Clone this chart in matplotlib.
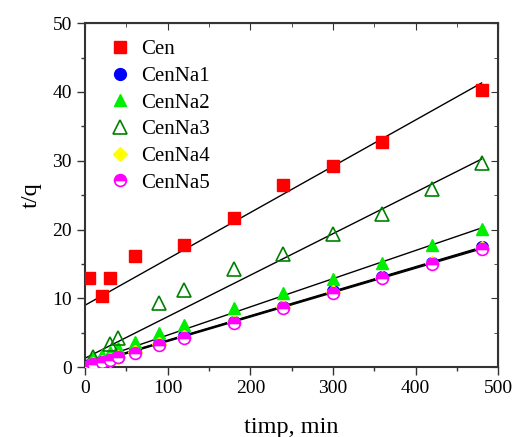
import numpy as np
import matplotlib.pyplot as plt
from matplotlib.ticker import MultipleLocator

plt.rcParams['font.family'] = ['Liberation Serif', 'DejaVu Serif']

# time points (min)
t_cen = [5, 20, 30, 60, 120, 180, 240, 300, 360, 480]
q_cen = [13.0, 10.3, 13.0, 16.2, 17.7, 21.7, 26.4, 29.3, 32.7, 40.3]

t_na = [5, 10, 20, 30, 40, 60, 90, 120, 180, 240, 300, 360, 420, 480]
q_na1 = [0.25, 0.5, 0.85, 1.15, 1.5, 2.3, 3.4, 4.5, 6.6, 8.8, 11.0, 13.1, 15.2, 17.4]
q_na2 = [0.7, 1.3, 1.7, 2.2, 2.8, 3.6, 5.0, 6.1, 8.6, 10.8, 12.8, 15.1, 17.7, 20.1]
t_na3 = [10, 30, 40, 90, 120, 180, 240, 300, 360, 420, 480]
q_na3 = [1.5, 3.3, 4.3, 9.3, 11.2, 14.2, 16.4, 19.3, 22.2, 25.9, 29.6]
q_na4 = [0.2, 0.45, 0.8, 1.1, 1.45, 2.2, 3.3, 4.4, 6.5, 8.7, 10.9, 13.0, 15.1, 17.3]
q_na5 = [0.2, 0.4, 0.75, 1.05, 1.4, 2.1, 3.2, 4.3, 6.4, 8.6, 10.8, 12.9, 15.0, 17.2]

# linear fit lines as drawn in the original (intercept, slope), x from 0 to 480
fit_b = [9.0, 0.35, 0.55, 1.3, 0.3, 0.2]
fit_m = [0.0673, 0.0356, 0.041, 0.0603, 0.0355, 0.0354]
fit_x = [0, 480]

fig = plt.figure(figsize=(5.13, 4.37), dpi=100)
ax = fig.add_axes([0.166, 0.160, 0.805, 0.787])

series = [
    ("Cen", t_cen, q_cen, dict(marker='s', color='#ff0000', mec='#ff0000', ms=8)),
    ("CenNa1", t_na, q_na1, dict(marker='o', color='#0000ff', mec='#0000ff', ms=8.5)),
    ("CenNa2", t_na, q_na2, dict(marker='^', color='#00ee00', mec='#00ee00', ms=9)),
    ("CenNa3", t_na3, q_na3, dict(marker='^', color='none', mec='#008000', mew=1.2, ms=10)),
    ("CenNa4", t_na, q_na4, dict(marker='D', color='#ffff00', mec='#ffff00', ms=7)),
    ("CenNa5", t_na, q_na5, dict(marker='o', color='#ff00ff', mec='#ff00ff', mfc='#ff00ff',
                                 fillstyle='top', markerfacecoloralt='white', mew=1.2, ms=8.5)),
]

xs = np.array(fit_x)
for b, m in zip(fit_b, fit_m):
    ax.plot(xs, m * xs + b, color='black', lw=1, zorder=2)

for name, t, q, st in series:
    ax.plot(t, q, ls='none', label=name, zorder=3, **st)

ax.set_xlim(0, 500)
ax.set_ylim(0, 50)
ax.xaxis.set_major_locator(MultipleLocator(100))
ax.xaxis.set_minor_locator(MultipleLocator(50))
ax.yaxis.set_major_locator(MultipleLocator(10))
ax.yaxis.set_minor_locator(MultipleLocator(5))
ax.tick_params(which='both', direction='out', labelsize=14, width=1, colors='#333333',
               labelcolor='black')
ax.tick_params(which='major', length=6)
ax.tick_params(which='minor', length=3)

# inward ticks on top and right
for side in ['top', 'right']:
    sec = ax.secondary_xaxis('top') if side == 'top' else ax.secondary_yaxis('right')
    axis = sec.xaxis if side == 'top' else sec.yaxis
    axis.set_major_locator(MultipleLocator(100 if side == 'top' else 10))
    axis.set_minor_locator(MultipleLocator(50 if side == 'top' else 5))
    sec.tick_params(which='both', direction='in', labelsize=0, colors='#333333')
    sec.tick_params(which='major', length=5)
    sec.tick_params(which='minor', length=3)
    axis.set_ticklabels([])

for s in ax.spines.values():
    s.set_linewidth(1.5)
    s.set_color('#333333')

ax.set_xlabel('timp, min', fontsize=17.5, labelpad=14)
ax.set_ylabel('t/q', fontsize=17.5, labelpad=8)

ax.legend(loc='upper left', frameon=False, fontsize=15, handlelength=1.5,
          handletextpad=0.25, labelspacing=0.34, borderaxespad=0,
          bbox_to_anchor=(0.027, 0.976))

fig.savefig('out.png', dpi=100)
